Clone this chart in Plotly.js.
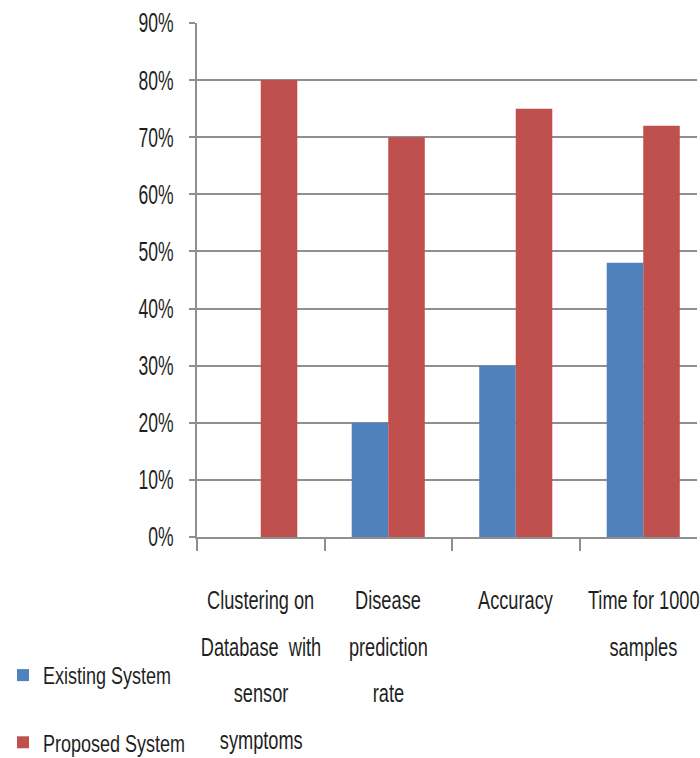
<!DOCTYPE html>
<html>
<head>
<meta charset="utf-8">
<script src="https://cdn.plot.ly/plotly-3.0.1.min.js"></script>
<style>html,body{margin:0;padding:0;background:#fff;}#chart{width:700px;height:758px;}</style>
</head>
<body>
<div id="chart"></div>
<script>
var categories = ["Clustering on\nDatabase  with\nsensor\nsymptoms", "Disease\nprediction\nrate", "Accuracy", "Time for 1000\nsamples"];
var existingSystem = [0, 0.20, 0.30, 0.48];
var proposedSystem = [0.80, 0.70, 0.75, 0.72];
var seriesNames = ["Existing System", "Proposed System"];
var yTickVals = [0, 0.1, 0.2, 0.3, 0.4, 0.5, 0.6, 0.7, 0.8, 0.9];

var FONT = "'Liberation Sans', Arial, sans-serif";
var TXT = "#1f1f1f";
var GRID = "#8f8f8f";

var ml = 197, mr = 3, mt = 23, mb = 221, W = 700, H = 758;
var plotH = H - mt - mb;
var catW = 127.5;
var plotW = W - ml - mr;

var idx = categories.map(function(c, i){ return i; });
var traces = [
  {type: "bar", x: idx, y: existingSystem, name: seriesNames[0],
   marker: {color: "#4F81BD"}, legendgroup: "a"},
  {type: "bar", x: idx, y: proposedSystem, name: seriesNames[1],
   marker: {color: "#C0504D"}, legendgroup: "b"}
];

var annotations = [];
categories.forEach(function(lab, i){
  lab.split("\n").forEach(function(line, j){
    var ypix = 600 + j * 46.5;
    annotations.push({
      x: i, xref: "x", y: (mt + plotH - ypix) / plotH, yref: "paper",
      text: line, showarrow: false, xanchor: "center", yanchor: "middle",
      font: {family: FONT, size: 26, color: TXT}
    });
  });
});

var layout = {
  width: W, height: H,
  margin: {l: ml, r: mr, t: mt, b: mb, pad: 0, autoexpand: false},
  paper_bgcolor: "#ffffff", plot_bgcolor: "#ffffff",
  barmode: "group", bargap: 0.427, bargroupgap: 0,
  showlegend: true,
  legend: {x: (3 - ml) / plotW, xanchor: "left", y: (mt + plotH - 653) / plotH, yanchor: "top",
           orientation: "v", traceorder: "grouped", tracegroupgap: 33,
           font: {family: FONT, size: 24, color: TXT}, itemwidth: 30, bgcolor: "rgba(0,0,0,0)"},
  xaxis: {type: "linear", range: [-0.5, -0.5 + plotW / catW], showgrid: false, zeroline: false,
          showline: true, linecolor: GRID, linewidth: 2,
          tickmode: "array", tickvals: [-0.5, 0.5, 1.5, 2.5, 3.5], ticks: "outside", ticklen: 12,
          tickwidth: 2, tickcolor: GRID, showticklabels: false, fixedrange: true},
  yaxis: {range: [0, 0.9], tickmode: "array", tickvals: yTickVals, tickformat: ".0%",
          showgrid: true, gridcolor: GRID, gridwidth: 2, zeroline: false,
          showline: true, linecolor: GRID, linewidth: 2,
          ticks: "outside", ticklen: 6, tickwidth: 2, tickcolor: GRID, ticklabelstandoff: 10,
          tickfont: {family: FONT, size: 27, color: TXT}, fixedrange: true},
  annotations: annotations
};

function squeeze(selector, factor) {
  document.querySelectorAll(selector).forEach(function(t){
    try {
      var len = t.getComputedTextLength();
      if (len > 0) {
        t.setAttribute("textLength", (len * factor).toFixed(1));
        t.setAttribute("lengthAdjust", "spacingAndGlyphs");
      }
    } catch (e) {}
  });
}

Plotly.newPlot("chart", traces, layout, {displayModeBar: false, staticPlot: true}).then(function(){
  squeeze("#chart .ytick text", 0.65);
  squeeze("#chart .annotation-text-g text", 0.70);
  squeeze("#chart .legend text.legendtext", 0.75);
});
</script>
</body>
</html>
